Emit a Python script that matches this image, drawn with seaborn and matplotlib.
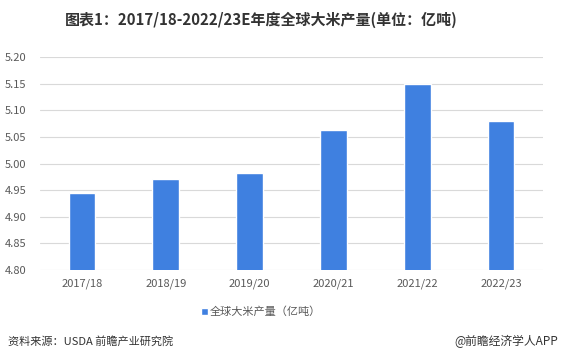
import matplotlib
matplotlib.use("Agg")
import matplotlib.pyplot as plt
import seaborn as sns
import pandas as pd
from matplotlib.patches import Patch

categories = ["2017/18", "2018/19", "2019/20", "2020/21", "2021/22", "2022/23"]
values = [4.945, 4.971, 4.982, 5.062, 5.150, 5.080]
yticks = [4.80, 4.85, 4.90, 4.95, 5.00, 5.05, 5.10, 5.15, 5.20]
series_name = "全球大米产量（亿吨）"
title = "图表1：2017/18-2022/23E年度全球大米产量(单位：亿吨)"
source = "资料来源：USDA 前瞻产业研究院"
credit = "@前瞻经济学人APP"

sns.set_theme(style="white")
plt.rcParams['font.family'] = ['Noto Sans CJK SC', 'DejaVu Sans']

df = pd.DataFrame({"year": categories, "value": values})

fig = plt.figure(figsize=(5.62, 3.62), dpi=100)
ax = fig.add_axes([40/562, 1 - 270/362, 503/562, 213/362])
color = "#3F80E0"
sns.barplot(data=df, x="year", y="value", color=color, width=0.32, ax=ax,
            saturation=1, zorder=3)
ax.set_ylim(4.80, 5.20)
ax.set_yticks(yticks)
ax.set_yticklabels([f"{t:.2f}" for t in yticks], fontsize=8, color="#595959")
ax.tick_params(axis='x', labelsize=8, colors="#595959", pad=6, length=0)
ax.tick_params(axis='y', length=0, pad=10)
ax.set_xlabel("")
ax.set_ylabel("")
ax.yaxis.grid(True, color="#D9D9D9", linewidth=0.8, zorder=0)
for s in ax.spines.values():
    s.set_visible(False)
ax.set_xlim(-0.5, 5.5)

fig.text(261/562, 1 - 20/362, title, ha="center", va="center", fontsize=10.8,
         fontweight="bold", color="#333333")
leg = fig.legend(handles=[Patch(facecolor=color, label=series_name)],
                 loc="center", bbox_to_anchor=(261/562, 1 - 312/362), frameon=False,
                 fontsize=8, handlelength=0.6, handleheight=0.6, handletextpad=0.2)
for t in leg.get_texts():
    t.set_color("#595959")
fig.text(8/562, 1 - 341/362, source, ha="left", va="center", fontsize=8, color="#333333")
fig.text(558/562, 1 - 341/362, credit, ha="right", va="center", fontsize=8.5, color="#333333")

fig.savefig("out.png", dpi=100)
